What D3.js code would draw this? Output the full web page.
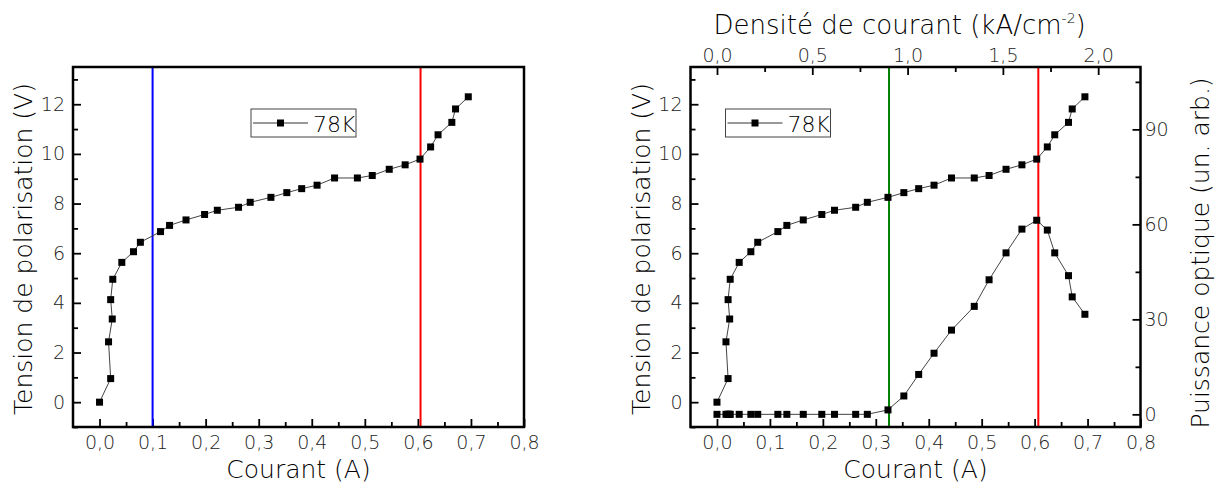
<!DOCTYPE html>
<html>
<head>
<meta charset="utf-8">
<script src="https://cdn.jsdelivr.net/npm/d3@7"></script>
<style>
  html, body { margin: 0; padding: 0; background: #fff; }
  svg text { font-family: "DejaVu Sans", "Liberation Sans", sans-serif; font-weight: 200; fill: #000; }
</style>
</head>
<body>
<svg id="chart" width="1217" height="489"></svg>
<script>
// ---- Data ----
const current = [0, 0.021, 0.017, 0.024, 0.021, 0.025, 0.042, 0.064, 0.077, 0.115, 0.132, 0.163, 0.198, 0.222, 0.262, 0.284, 0.323, 0.353, 0.381, 0.410, 0.443, 0.486, 0.514, 0.546, 0.576, 0.604, 0.624, 0.638, 0.664, 0.671, 0.695];
const voltage = [0, 0.95, 2.43, 3.35, 4.13, 4.95, 5.63, 6.06, 6.44, 6.87, 7.12, 7.34, 7.56, 7.73, 7.85, 8.05, 8.25, 8.44, 8.60, 8.74, 9.03, 9.03, 9.13, 9.38, 9.56, 9.79, 10.28, 10.77, 11.27, 11.81, 12.30];
const power = [0, 0, 0, 0, 0, 0, 0, 0, 0, 0, 0, 0, 0, 0, 0, 0, 1.4, 5.8, 12.6, 19.3, 26.6, 34.1, 42.5, 51.0, 58.5, 61.3, 58.2, 51.0, 43.8, 37.1, 31.6];
const seriesName = "78K";

const xTicksMajor = [0, 0.1, 0.2, 0.3, 0.4, 0.5, 0.6, 0.7, 0.8];
const xTicksMinor = [0.05, 0.15, 0.25, 0.35, 0.45, 0.55, 0.65, 0.75];
const yTicksMajor = [0, 2, 4, 6, 8, 10, 12];
const yTicksMinor = [-1, 1, 3, 5, 7, 9, 11, 13];
const pTicksMajor = [0, 30, 60, 90];
const pTicksMinor = [15, 45, 75, 105];
const jTicksMajor = [0, 0.5, 1.0, 1.5, 2.0];
const jTicksMinor = [0.25, 0.75, 1.25, 1.75];

const xDomain = [-0.05, 0.8];
const yDomain = [-1, 13.5];
const pDomain = [-4, 109.7];
const jDomain = [-0.139, 2.222];

const leftMarkers = [{x: 0.1, color: "#0000ff"}, {x: 0.605, color: "#ff0000"}];
const rightMarkers = [{x: 0.325, color: "#008000"}, {x: 0.607, color: "#ff0000"}];

const xTitle = "Courant (A)";
const yTitle = "Tension de polarisation (V)";
const pTitle = "Puissance optique (un. arb.)";
const jTitle = "Densité de courant (kA/cm";

// ---- Drawing ----
const svg = d3.select("#chart");
const fmt1 = v => d3.format(".1f")(v).replace(".", ",");
const fmt0 = v => d3.format("d")(v);
const TICK_FONT = 19;
const TITLE_FONT = 25;

function styleAxis(g) {
  g.select(".domain").remove();
  g.selectAll(".tick line").attr("stroke", "#000").attr("stroke-width", 1.8);
  g.selectAll(".tick text").style("font-size", TICK_FONT + "px").style("fill", "#222");
}

function panel(opt) {
  const x = d3.scaleLinear().domain(xDomain).range([opt.left, opt.right]);
  const y = d3.scaleLinear().domain(yDomain).range([opt.bottom, opt.top]);
  const g = svg.append("g");
  const H = opt.bottom - opt.top, W = opt.right - opt.left;

  const cid = "clip" + opt.id;
  svg.append("clipPath").attr("id", cid).append("rect")
    .attr("x", opt.left).attr("y", opt.top).attr("width", W).attr("height", H);

  // bottom axis
  g.append("g").attr("transform", `translate(0,${opt.bottom})`)
    .call(d3.axisBottom(x).tickValues(xTicksMajor).tickSize(-8).tickPadding(9).tickFormat(fmt1))
    .call(styleAxis);
  g.append("g").attr("transform", `translate(0,${opt.bottom})`)
    .call(d3.axisBottom(x).tickValues(xTicksMinor).tickSize(-5).tickFormat(""))
    .call(styleAxis);
  // left axis
  g.append("g").attr("transform", `translate(${opt.left},0)`)
    .call(d3.axisLeft(y).tickValues(yTicksMajor).tickSize(-8).tickPadding(8).tickFormat(fmt0))
    .call(styleAxis);
  g.append("g").attr("transform", `translate(${opt.left},0)`)
    .call(d3.axisLeft(y).tickValues(yTicksMinor).tickSize(-5).tickFormat(""))
    .call(styleAxis);

  let p = null;
  if (opt.dual) {
    p = d3.scaleLinear().domain(pDomain).range([opt.bottom, opt.top]);
    const j = d3.scaleLinear().domain(jDomain).range([opt.left, opt.right]);
    g.append("g").attr("transform", `translate(${opt.right},0)`)
      .call(d3.axisRight(p).tickValues(pTicksMajor).tickSize(-8).tickPadding(4).tickFormat(fmt0))
      .call(styleAxis);
    g.append("g").attr("transform", `translate(${opt.right},0)`)
      .call(d3.axisRight(p).tickValues(pTicksMinor).tickSize(-5).tickFormat(""))
      .call(styleAxis);
    g.append("g").attr("transform", `translate(0,${opt.top})`)
      .call(d3.axisTop(j).tickValues(jTicksMajor).tickSize(-8).tickPadding(5).tickFormat(fmt1))
      .call(styleAxis);
    g.append("g").attr("transform", `translate(0,${opt.top})`)
      .call(d3.axisTop(j).tickValues(jTicksMinor).tickSize(-5).tickFormat(""))
      .call(styleAxis);

    // top title with superscript
    const t = g.append("text")
      .attr("x", opt.left + 23).attr("y", 34)
      .attr("text-anchor", "start").style("font-size", "26px");
    t.append("tspan").text(jTitle);
    t.append("tspan").attr("dy", -11).style("font-size", "14px").text("-2");
    t.append("tspan").attr("dy", 11).text(")");

    // right title
    g.append("text")
      .attr("transform", `translate(${opt.right + 68},${(opt.top + opt.bottom) / 2 + 6}) rotate(-90)`)
      .attr("text-anchor", "middle").style("font-size", TITLE_FONT + "px")
      .text(pTitle);
  }

  // vertical marker lines
  const cg = g.append("g").attr("clip-path", `url(#${cid})`);
  opt.markers.forEach(m => {
    cg.append("line")
      .attr("x1", x(m.x)).attr("x2", x(m.x)).attr("y1", opt.top).attr("y2", opt.bottom)
      .attr("stroke", m.color).attr("stroke-width", 2);
  });

  // series
  const idx = d3.range(current.length);
  const drawSeries = (ys, sc) => {
    cg.append("path")
      .attr("d", d3.line().x(i => x(current[i])).y(i => sc(ys[i]))(idx))
      .attr("fill", "none").attr("stroke", "#444").attr("stroke-width", 1);
    cg.selectAll(null).data(idx).enter().append("rect")
      .attr("x", i => x(current[i]) - 3.5).attr("y", i => sc(ys[i]) - 3.5)
      .attr("width", 7).attr("height", 7).attr("fill", "#000");
  };
  drawSeries(voltage, y);
  if (opt.dual) drawSeries(power, p);

  // frame
  g.append("rect").attr("x", opt.left).attr("y", opt.top).attr("width", W).attr("height", H)
    .attr("fill", "none").attr("stroke", "#000").attr("stroke-width", 2.5);

  // legend
  const lg = g.append("g").attr("transform", `translate(${opt.legendX},${opt.legendY})`);
  lg.append("rect").attr("x", 0).attr("y", 0).attr("width", 105).attr("height", 28)
    .attr("fill", "#fff").attr("stroke", "#444").attr("stroke-width", 1);
  lg.append("line").attr("x1", 2).attr("x2", 57).attr("y1", 14).attr("y2", 14)
    .attr("stroke", "#333").attr("stroke-width", 1);
  lg.append("rect").attr("x", 26).attr("y", 10.5).attr("width", 7).attr("height", 7).attr("fill", "#000");
  lg.append("text").attr("x", 62).attr("y", 22.5).style("font-size", "22px").text(seriesName);

  // bottom title
  g.append("text").attr("x", (opt.left + opt.right) / 2).attr("y", 478)
    .attr("text-anchor", "middle").style("font-size", TITLE_FONT + "px").text(xTitle);
  // left title
  g.append("text")
    .attr("transform", `translate(${opt.left - 41},${(opt.top + opt.bottom) / 2 + 2}) rotate(-90)`)
    .attr("text-anchor", "middle").style("font-size", TITLE_FONT + "px")
    .text(yTitle);
}

panel({id: "L", left: 73, right: 524, top: 67, bottom: 427, markers: leftMarkers, dual: false, legendX: 251, legendY: 109});
panel({id: "R", left: 690.5, right: 1140.5, top: 67, bottom: 427, markers: rightMarkers, dual: true, legendX: 725.5, legendY: 109});
</script>
</body>
</html>
